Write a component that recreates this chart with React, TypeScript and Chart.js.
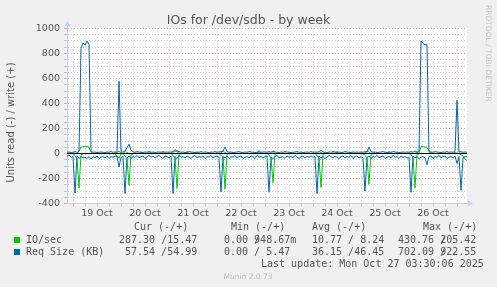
import React, { useEffect, useRef } from 'react';
import { Chart, registerables } from 'chart.js';

Chart.register(...registerables);

// Time axis: hours relative to 19 Oct 00:00, one sample per hour
const START_HOUR = -3; // 18 Oct 21:00
const END_HOUR = 197; // graph end

const DAY_LABELS = ['19 Oct', '20 Oct', '21 Oct', '22 Oct', '23 Oct', '24 Oct', '25 Oct', '26 Oct'];
const Y_LABELS = [-400, -200, 0, 200, 400, 600, 800, 1000];

const TITLE = 'IOs for /dev/sdb - by week';
const Y_TITLE = 'Units read (-) / write (+)';

// IO/sec read (plotted negative)
const ioReadNeg = [
  0, 0, -1,
  0, -15, -40, -276, -10, -1, 0, 0, 0, -1, 0, 0, 0, 0, -1, 0, 0, 0, 0, 0, 0, -1, -20, -40,
  -3, 0, -20, -40, -255, -8, -1, 0, 0, 0, -1, 0, 0, 0, 0, 0, -1, 0, 0, 0, 0, 0, 0, 0,
  0, 0, -15, -35, -280, -6, -1, 0, 0, 0, -1, 0, 0, 0, 0, 0, -1, 0, 0, 0, 0, 0, 0, 0,
  0, 0, -15, -30, -285, -6, -1, 0, 0, 0, -1, 0, 0, 0, 0, 0, -1, 0, 0, 0, 0, 0, 0, 0,
  0, 0, -12, -35, -233, -6, -1, 0, 0, 0, -1, 0, 0, 0, 0, 0, -1, 0, 0, 0, 0, 0, 0, 0,
  0, 0, -15, -40, -273, -6, -1, 0, 0, 0, -1, 0, 0, 0, 0, 0, -1, 0, 0, 0, 0, 0, 0, 0,
  0, 0, -15, -35, -245, -6, -1, 0, 0, 0, -1, 0, 0, 0, 0, 0, -1, 0, 0, 0, 0, 0, 0, 0,
  0, -6, -35, -277, -8, -1, 0, 0, 0, -1, 0, 0, 0, 0, 0, -1, 0, 0, 0, 0, 0, 0, 0, -1,
  0, 0, -10, -20, -45, -55,
];

// IO/sec write
const ioWrite = [
  1, 0, 1,
  1, 0, 3, 20, 50, 55, 55, 55, 50, 10, 1, 0, 1, 0, 1, 0, 1, 0, 1, 0, 1, 1, 8, 20,
  3, 1, 15, 8, 1, 1, 0, 1, 3, 1, 12, 1, 1, 0, 15, 1, 1, 3, 0, 1, 1, 12, 1, 1,
  1, 3, 8, 20, 12, 1, 1, 0, 1, 15, 1, 1, 0, 1, 10, 1, 1, 0, 1, 3, 1, 1, 0, 1,
  1, 1, 3, 20, 8, 1, 0, 1, 1, 3, 1, 0, 1, 1, 0, 3, 1, 1, 1, 0, 1, 25, 3, 1,
  1, 1, 3, 1, 15, 1, 1, 0, 1, 1, 3, 1, 0, 1, 1, 0, 1, 1, 3, 1, 0, 1, 1, 0,
  1, 1, 3, 1, 8, 1, 1, 0, 1, 1, 3, 1, 15, 1, 1, 0, 1, 1, 3, 1, 0, 1, 1, 0,
  1, 1, 3, 20, 12, 1, 0, 1, 1, 3, 1, 0, 1, 1, 15, 1, 1, 0, 1, 3, 1, 1, 0, 1,
  1, 1, 0, 3, 8, 1, 55, 55, 50, 50, 25, 2, 1, 0, 1, 1, 3, 1, 0, 1, 1, 0, 1, 8,
  3, 1, 1, 1, 0, 1,
];

// Req Size (KB) read (plotted negative)
const sizeReadNeg = [
  -20, -12, -30,
  -25, -316, -18, -40, -25, -35, -30, -40, -25, -45, -25, -35, -20, -40, -30, -25, -35, -20, -40, -25, -30, -20, -25, -108,
  -30, -25, -320, -35, -20, -40, -25, -30, -15, -35, -25, -20, -40, -25, -15, -30, -20, -35, -25, -15, -30, -40, -20, -25,
  -35, -20, -320, -25, -40, -15, -30, -25, -35, -20, -30, -40, -25, -15, -35, -25, -30, -20, -40, -25, -30, -15, -35, -25,
  -20, -30, -308, -25, -35, -20, -40, -25, -30, -15, -35, -25, -20, -40, -30, -25, -35, -20, -25, -40, -15, -30, -25, -35,
  -25, -20, -310, -30, -40, -25, -15, -35, -30, -25, -40, -20, -30, -25, -35, -15, -30, -40, -25, -20, -35, -25, -30, -20,
  -30, -25, -321, -20, -35, -25, -40, -30, -15, -25, -35, -20, -30, -40, -25, -20, -35, -25, -30, -15, -40, -25, -20, -35,
  -25, -35, -300, -30, -20, -40, -25, -30, -15, -35, -25, -20, -40, -30, -25, -35, -15, -30, -25, -40, -20, -30, -25, -35,
  -30, -310, -20, -35, -25, -40, -30, -25, -35, -90, -25, -20, -40, -25, -30, -15, -35, -25, -20, -40, -30, -25, -35, -20,
  -80, -25, -294, -35, -25, -25,
];

// Req Size (KB) write
const sizeWrite = [
  10, 12, 8,
  10, 15, 10, 15, 840, 885, 865, 900, 870, 15, 10, 12, 8, 10, 12, 10, 8, 12, 10, 15, 10, 12, 10, 578,
  15, 10, 20, 45, 75, 30, 12, 10, 15, 12, 10, 8, 12, 10, 15, 10, 12, 8, 10, 12, 10, 15, 10, 12,
  10, 12, 15, 30, 20, 15, 10, 12, 8, 10, 15, 12, 10, 8, 12, 10, 15, 10, 12, 10, 8, 12, 10, 15,
  10, 12, 15, 20, 52, 15, 10, 12, 8, 10, 12, 15, 10, 8, 12, 10, 15, 12, 10, 8, 10, 12, 10, 12,
  12, 10, 15, 10, 20, 12, 10, 8, 12, 10, 15, 12, 10, 8, 10, 12, 15, 10, 12, 8, 10, 12, 10, 15,
  10, 12, 10, 15, 25, 12, 10, 8, 12, 10, 15, 12, 10, 12, 8, 10, 15, 12, 10, 8, 12, 10, 12, 10,
  12, 10, 15, 10, 52, 15, 10, 12, 8, 10, 12, 15, 10, 8, 12, 10, 15, 12, 10, 8, 10, 12, 10, 12,
  10, 15, 10, 20, 12, 15, 900, 880, 870, 870, 10, 12, 10, 15, 12, 10, 8, 12, 10, 15, 10, 12, 10, 15,
  426, 12, 15, 10, 12, 10,
];

// Legend table
const LEGEND_HEAD = ['Cur (-/+)', 'Min (-/+)', 'Avg (-/+)', 'Max (-/+)'];
const IO_LABEL = 'IO/sec';
const IO_CUR = ['287.30', '15.47'];
const IO_MIN = ['0.00', '948.67m'];
const IO_AVG = ['10.77', ' 8.24'];
const IO_MAX = ['430.76', '205.42'];
const SIZE_LABEL = 'Req Size (KB)';
const SIZE_CUR = ['57.54', '54.99'];
const SIZE_MIN = ['0.00', ' 5.47'];
const SIZE_AVG = ['36.15', '46.45'];
const SIZE_MAX = ['702.09', '922.55'];
const LAST_UPDATE = 'Last update: Mon Oct 27 03:30:06 2025';
const MUNIN_VERSION = 'Munin 2.0.73';
const WATERMARK = 'RRDTOOL / TOBI OETIKER';

const GREEN = '#00cc00';
const BLUE = '#0066b3';

export default function App() {
  const ref = useRef<HTMLCanvasElement>(null);

  useEffect(() => {
    const canvas = ref.current;
    if (!canvas) return;
    const toPts = (vals: number[]) => vals.map((v, i) => ({ x: START_HOUR + i, y: v }));

    const FONT = "'DejaVu Sans', sans-serif";
    const MONO = "'DejaVu Sans Mono', monospace";
    const TEXT = '#555555';
    const MAJOR = 'rgba(235,110,110,0.6)';
    const MINOR = 'rgba(160,160,160,0.55)';
    const AXIS = '#c6cef4';

    const xTicks: number[] = [];
    for (let h = 0; h <= END_HOUR; h += 6) xTicks.push(h);
    const yTicks: number[] = [];
    for (let v = -400; v <= 1000; v += 50) yTicks.push(v);

    const muninPlugin = {
      id: 'munin',
      beforeDraw(chart: any) {
        const { ctx, chartArea: a } = chart;
        ctx.save();
        ctx.fillStyle = '#f0f0f0';
        ctx.fillRect(0, 0, chart.width, chart.height);
        ctx.fillStyle = '#ffffff';
        ctx.fillRect(a.left, a.top, a.right - a.left, a.bottom - a.top);
        ctx.restore();
      },
      afterDatasetsDraw(chart: any) {
        const { ctx, chartArea: a, scales } = chart;
        const y0 = scales.y.getPixelForValue(0);
        ctx.save();
        ctx.strokeStyle = '#000000';
        ctx.lineWidth = 1;
        ctx.beginPath();
        ctx.moveTo(a.left, y0);
        ctx.lineTo(a.right, y0);
        ctx.stroke();
        ctx.restore();
      },
      afterDraw(chart: any) {
        const { ctx, chartArea: a } = chart;
        ctx.save();
        // axis arrows
        ctx.strokeStyle = AXIS;
        ctx.fillStyle = AXIS;
        ctx.lineWidth = 1;
        const lx = Math.round(a.left) + 0.5;
        const top = Math.floor(a.top);
        ctx.beginPath();
        ctx.moveTo(lx, top);
        ctx.lineTo(lx, top - 3);
        ctx.stroke();
        ctx.beginPath();
        ctx.moveTo(lx - 3, top - 2);
        ctx.lineTo(lx + 3, top - 2);
        ctx.lineTo(lx, top - 7);
        ctx.closePath();
        ctx.fill();
        const by = Math.floor(a.bottom) + 0.5;
        ctx.beginPath();
        ctx.moveTo(a.right, by);
        ctx.lineTo(a.right + 3, by);
        ctx.stroke();
        ctx.beginPath();
        ctx.moveTo(a.right + 1, by - 3);
        ctx.lineTo(a.right + 1, by + 3);
        ctx.lineTo(a.right + 6, by);
        ctx.closePath();
        ctx.fill();

        // title
        ctx.fillStyle = TEXT;
        ctx.font = `12.5px ${FONT}`;
        ctx.textAlign = 'center';
        ctx.textBaseline = 'alphabetic';
        ctx.fillText(TITLE, 248.5, 24);

        // y title
        ctx.save();
        ctx.translate(11, 122.5);
        ctx.rotate(-Math.PI / 2);
        ctx.font = `10px ${FONT}`;
        ctx.textAlign = 'center';
        ctx.textBaseline = 'middle';
        ctx.fillText(Y_TITLE, 0, 0);
        ctx.restore();

        // watermark
        ctx.save();
        ctx.translate(487.5, 5);
        ctx.rotate(Math.PI / 2);
        ctx.font = `7.5px ${FONT}`;
        ctx.fillStyle = '#c4c4c4';
        ctx.textAlign = 'left';
        ctx.textBaseline = 'middle';
        ctx.fillText(WATERMARK, 0, 0);
        ctx.restore();

        // legend
        ctx.font = `10px ${MONO}`;
        ctx.textAlign = 'left';
        ctx.textBaseline = 'middle';
        const cw = ctx.measureText('0').width;
        const hx = [134, 231, 312, 423];
        LEGEND_HEAD.forEach((t, i) => ctx.fillText(t, hx[i], 227.5));

        const pair = (p: string[], x: number, y: number, overlap: boolean) => {
          if (overlap) {
            ctx.fillText(p[0] + ' /', x, y);
            ctx.fillText(p[1], x + (p[0].length + 1) * cw, y);
          } else {
            ctx.fillText(p[0] + ' /' + p[1], x, y);
          }
        };
        const r1 = 240;
        const r2 = 252;
        ctx.fillStyle = GREEN;
        ctx.fillRect(14, 237, 6, 6);
        ctx.fillStyle = BLUE;
        ctx.fillRect(14, 249, 6, 6);
        ctx.fillStyle = TEXT;
        ctx.fillText(IO_LABEL, 26, r1);
        pair(IO_CUR, 119, r1, false);
        pair(IO_MIN, 224, r1, true);
        pair(IO_AVG, 312, r1, false);
        pair(IO_MAX, 398, r1, true);
        ctx.fillText(SIZE_LABEL, 26, r2);
        pair(SIZE_CUR, 125, r2, false);
        pair(SIZE_MIN, 224, r2, false);
        pair(SIZE_AVG, 312, r2, false);
        pair(SIZE_MAX, 398, r2, true);
        ctx.fillText(LAST_UPDATE, 261, 264);

        ctx.font = `7.5px ${FONT}`;
        ctx.fillStyle = '#bdbdbd';
        ctx.textAlign = 'center';
        ctx.fillText(MUNIN_VERSION, 248, 277);
        ctx.restore();
      },
    };

    const ds = (label: string, vals: number[], color: string) => ({
      label,
      data: toPts(vals),
      borderColor: color,
      backgroundColor: color,
      borderWidth: 1,
      pointRadius: 0,
      tension: 0,
      fill: false,
    });

    const chart = new Chart(canvas, {
      type: 'line',
      data: {
        datasets: [
          ds('Req Size (KB) write', sizeWrite, BLUE),
          ds('Req Size (KB) read', sizeReadNeg, BLUE),
          ds('IO/sec write', ioWrite, GREEN),
          ds('IO/sec read', ioReadNeg, GREEN),
        ],
      },
      options: {
        responsive: false,
        animation: false,
        devicePixelRatio: 1,
        layout: { padding: { left: 0, top: 28.5, right: 30, bottom: 63.5 } },
        plugins: {
          legend: { display: false },
          title: { display: false },
          tooltip: { enabled: false },
        },
        scales: {
          x: {
            type: 'linear',
            min: START_HOUR,
            max: END_HOUR,
            afterBuildTicks: (s: any) => {
              s.ticks = xTicks.map((v) => ({ value: v }));
            },
            afterFit: (s: any) => {
              s.height = 20;
            },
            grid: {
              color: (c: any) => (c.tick && c.tick.value % 24 === 0 ? MAJOR : MINOR),
              tickColor: (c: any) => (c.tick && c.tick.value % 24 === 0 ? MAJOR : MINOR),
              lineWidth: 1,
              tickLength: 3,
            },
            border: {
              display: true,
              color: AXIS,
              width: 1,
              dash: (c: any) => (c.tick ? [1, 2] : []),
            },
            ticks: {
              autoSkip: false,
              maxRotation: 0,
              minRotation: 0,
              padding: 1,
              color: TEXT,
              font: { family: FONT, size: 9.5 },
              callback: (v: any) => {
                const n = Number(v);
                return n % 24 === 12 ? DAY_LABELS[(n - 12) / 24] || '' : '';
              },
            },
          },
          y: {
            type: 'linear',
            min: -400,
            max: 1000,
            afterBuildTicks: (s: any) => {
              s.ticks = yTicks.map((v) => ({ value: v }));
            },
            afterFit: (s: any) => {
              s.width = 67;
            },
            grid: {
              color: (c: any) => (c.tick && c.tick.value % 200 === 0 ? MAJOR : MINOR),
              tickColor: (c: any) => (c.tick && c.tick.value % 200 === 0 ? MAJOR : MINOR),
              lineWidth: 1,
              tickLength: 3,
            },
            border: {
              display: true,
              color: AXIS,
              width: 1,
              dash: (c: any) => (c.tick ? [1, 2] : []),
            },
            ticks: {
              autoSkip: false,
              padding: 4,
              color: TEXT,
              font: { family: FONT, size: 9.5 },
              callback: (v: any) => (Y_LABELS.includes(Number(v)) ? String(v) : ''),
            },
          },
        },
      },
      plugins: [muninPlugin],
    } as any);

    return () => chart.destroy();
  }, []);

  return (
    <div style={{ position: 'fixed', left: 0, top: 0, width: 497, height: 287, background: '#f0f0f0' }}>
      <canvas ref={ref} width={497} height={287} style={{ display: 'block', width: 497, height: 287 }} />
    </div>
  );
}
